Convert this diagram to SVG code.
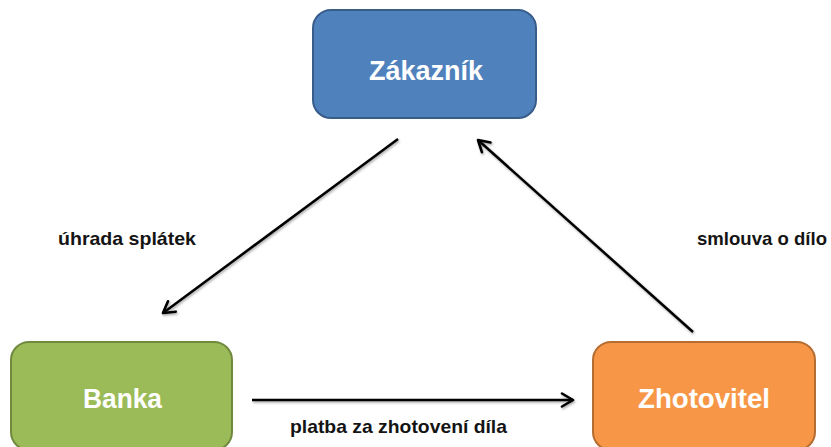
<svg xmlns="http://www.w3.org/2000/svg" width="831" height="447" viewBox="0 0 831 447">
  <defs>
    <style>
      .node { stroke-width: 2; }
      .blue { fill: #4F81BD; stroke: #385D8A; }
      .green { fill: #9BBB59; stroke: #71893F; }
      .orange { fill: #F79646; stroke: #B66D31; }
      .ntext { font-family: "Liberation Sans", Arial, sans-serif; font-weight: bold; font-size: 27px; fill: #FFFFFF; }
      .label { font-family: "Liberation Sans", Arial, sans-serif; font-weight: bold; font-size: 19px; fill: #141414; }
      .conn { stroke: #000000; stroke-width: 2.5; fill: none; marker-end: url(#arrow); filter: url(#shadow); }
    </style>
    <marker id="arrow" viewBox="0 0 16 16" refX="13" refY="8" markerWidth="16" markerHeight="16" markerUnits="userSpaceOnUse" orient="auto">
      <path d="M2,1.5 L13,8 L2,14.5" fill="none" stroke="#000000" stroke-width="2.6" stroke-linecap="round" stroke-linejoin="round"/>
    </marker>
    <filter id="shadow" filterUnits="userSpaceOnUse" x="0" y="0" width="831" height="447">
      <feDropShadow dx="1" dy="1.5" stdDeviation="1" flood-color="#000000" flood-opacity="0.35"/>
    </filter>
  </defs>

  <g id="connectors">
    <line class="conn" x1="398" y1="139" x2="163" y2="313"/>
    <line class="conn" x1="693" y1="332" x2="478" y2="140"/>
    <line class="conn" x1="252" y1="400" x2="573" y2="400"/>
  </g>

  <g id="node-zakaznik">
    <rect class="node blue" x="313" y="10" width="223" height="108" rx="18" ry="18"/>
    <text class="ntext" x="369" y="80" textLength="114" lengthAdjust="spacingAndGlyphs">Zákazník</text>
  </g>

  <g id="node-banka">
    <rect class="node green" x="11" y="342" width="221" height="108" rx="18" ry="18"/>
    <text class="ntext" x="83" y="408" textLength="79" lengthAdjust="spacingAndGlyphs">Banka</text>
  </g>

  <g id="node-zhotovitel">
    <rect class="node orange" x="593" y="342" width="222" height="108" rx="18" ry="18"/>
    <text class="ntext" x="638" y="408" textLength="132" lengthAdjust="spacingAndGlyphs">Zhotovitel</text>
  </g>

  <g id="labels">
    <text class="label" x="58" y="245" textLength="138" lengthAdjust="spacingAndGlyphs">úhrada splátek</text>
    <text class="label" x="697" y="245" textLength="130" lengthAdjust="spacingAndGlyphs">smlouva o dílo</text>
    <text class="label" x="290" y="433" textLength="217" lengthAdjust="spacingAndGlyphs">platba za zhotovení díla</text>
  </g>
</svg>
